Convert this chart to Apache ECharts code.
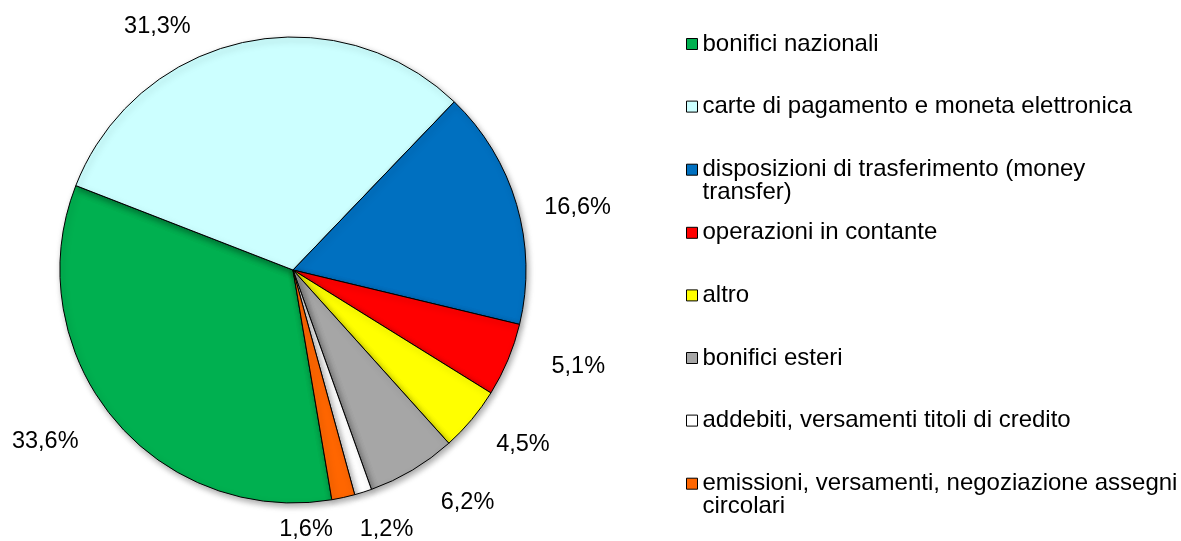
<!DOCTYPE html>
<html lang="it">
  <head>
    <meta charset="UTF-8" />
    <title>Pie chart</title>
    <style>
      html,
      body {
        width: 100%;
        height: 100%;
        overflow: hidden;
        margin: 0;
        background: #fff;
      }
      #main {
        width: 1181px;
        height: 541px;
      }
    </style>
  </head>
  <body>
    <div id="main"></div>
    <script src="https://cdn.jsdelivr.net/npm/echarts@6/dist/echarts.min.js"></script>
    <script>
      // categorie (ordine della legenda e delle fette, in senso orario)
      const categories = [
        "bonifici nazionali",
        "carte di pagamento e moneta elettronica",
        "disposizioni di trasferimento (money\ntransfer)",
        "operazioni in contante",
        "altro",
        "bonifici esteri",
        "addebiti, versamenti titoli di credito",
        "emissioni, versamenti, negoziazione assegni\ncircolari",
      ];
      // quote percentuali
      const shares = [33.6, 31.3, 16.6, 5.1, 4.5, 6.2, 1.2, 1.6];
      const colors = [
        "#00B050",
        "#CCFFFF",
        "#0070C0",
        "#FF0000",
        "#FFFF00",
        "#A6A6A6",
        "#FFFFFF",
        "#FF6600",
      ];

      const font = "'Liberation Sans', Arial, sans-serif";

      // piccoli spostamenti delle etichette, come nel grafico originale
      const labelNudge = [
        [-4, 4],
        [-40, 15],
        [-8, 12],
        [9, -6],
        [-5, 4],
        [7, 5],
        [-18, 7],
        [-76, 1],
      ];

      const option = {
        animation: false,
        color: colors,
        legend: {
          orient: "vertical",
          left: 686,
          top: 9.5,
          padding: 0,
          icon: "rect",
          itemWidth: 11,
          itemHeight: 11,
          itemGap: -6.4,
          selectedMode: false,
          itemStyle: { borderColor: "#000", borderWidth: 1 },
          textStyle: {
            fontFamily: font,
            fontSize: 24,
            lineHeight: 23,
            color: "#000",
            padding: [23, 0, 23, 0],
          },
          // le voci su due righe: riga vuota sopra, cosi' la prima riga sta accanto al quadratino
          formatter: (name) => (name.includes("\n") ? "\n" + name : name),
          data: categories.map((name) => ({
            name: name,
            textStyle: name.includes("\n") ? { padding: [0, 0, 0, 0] } : {},
          })),
        },
        series: [
          {
            type: "pie",
            center: [293, 270],
            radius: 233,
            startAngle: 279.6,
            clockwise: true,
            avoidLabelOverlap: false,
            itemStyle: {
              borderColor: "#000",
              borderWidth: 1,
              shadowColor: "rgba(0,0,0,0.35)",
              shadowBlur: 6,
              shadowOffsetX: 2,
              shadowOffsetY: 3,
            },
            label: {
              show: true,
              position: "outside",
              fontFamily: font,
              fontSize: 23.5,
              color: "#000",
              formatter: (p) => p.value.toFixed(1).replace(".", ",") + "%",
            },
            labelLine: { show: false, length: 32, length2: 0 },
            labelLayout: (params) => ({
              dx: labelNudge[params.dataIndex][0],
              dy: labelNudge[params.dataIndex][1],
              hideOverlap: false,
            }),
            emphasis: { disabled: true },
            data: categories.map((name, i) => ({ name: name, value: shares[i] })),
          },
        ],
      };

      const myChart = echarts.init(document.getElementById("main"));
      myChart.setOption(option);
    </script>
  </body>
</html>
